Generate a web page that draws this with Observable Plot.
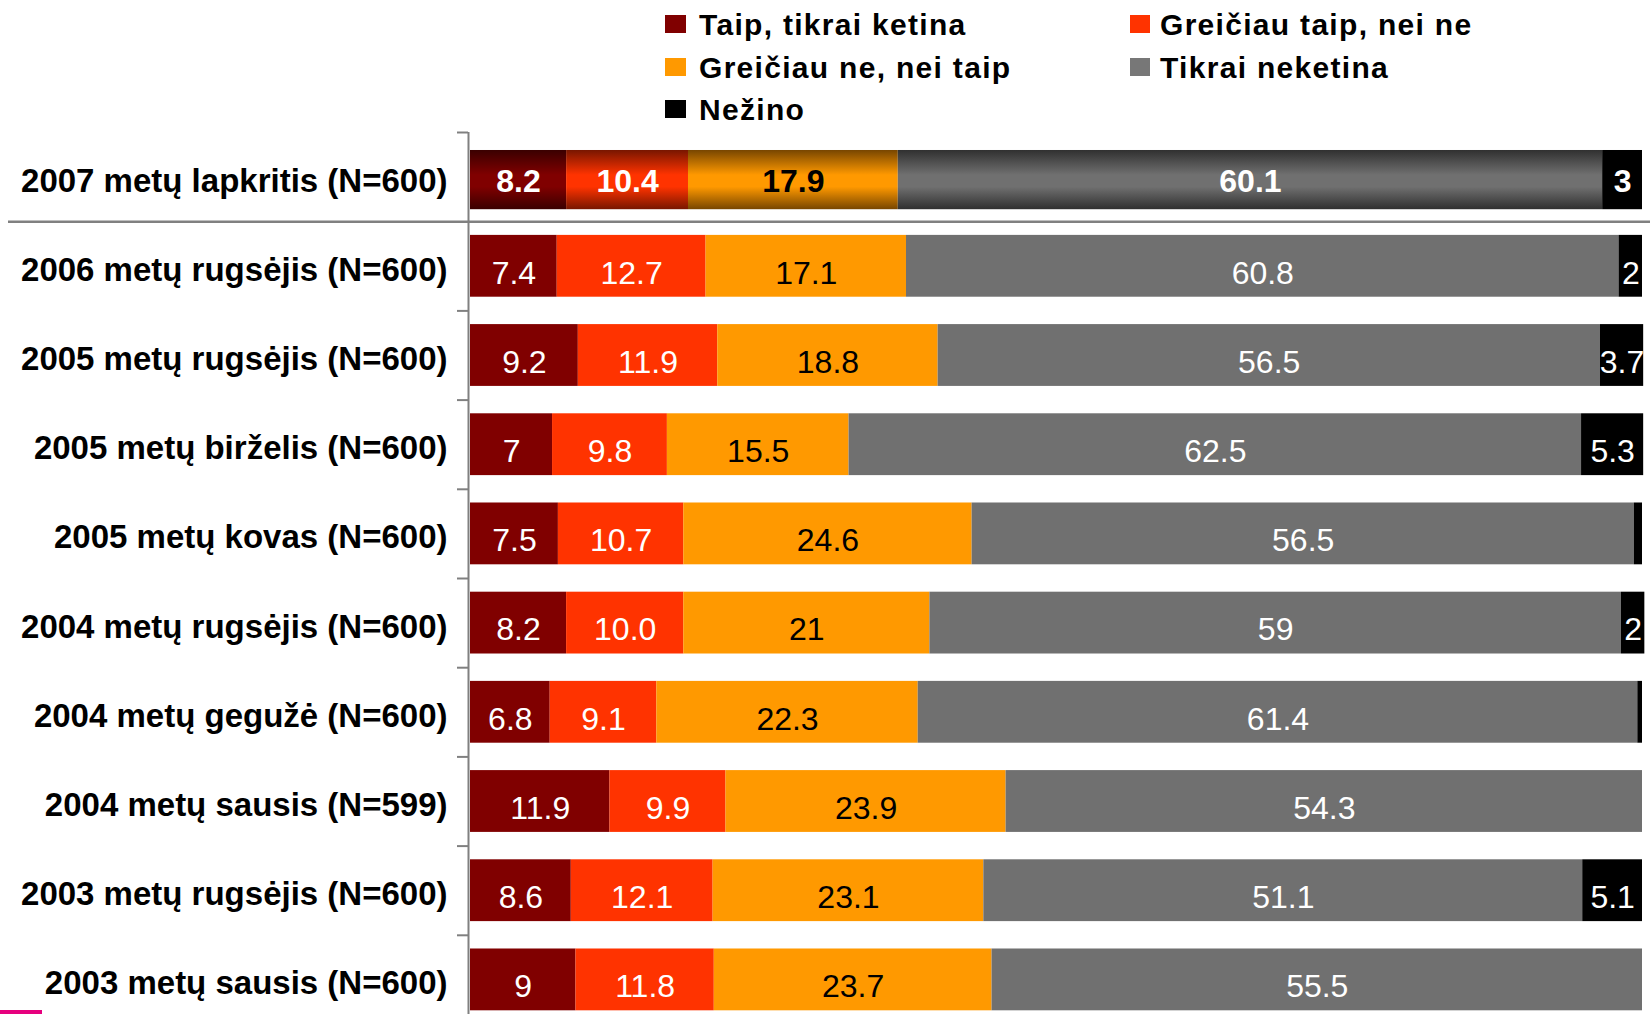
<!DOCTYPE html>
<html><head><meta charset="utf-8">
<script src="https://cdn.jsdelivr.net/npm/d3@7"></script>
<script src="https://cdn.jsdelivr.net/npm/@observablehq/plot@0.6"></script>
<style>
html,body{margin:0;padding:0;background:#fff;overflow:hidden;}
#wrap{position:relative;width:1650px;height:1014px;overflow:hidden;font-family:'Liberation Sans',Arial,sans-serif;}
#legend{position:relative;height:128px;}
.sw{position:absolute;}
.lt{position:absolute;font-size:30px;font-weight:bold;line-height:30px;letter-spacing:1.3px;white-space:nowrap;color:#000;}
#chart svg{display:block;}
#pink{position:absolute;left:0;top:1010px;width:42px;height:4px;background:#e6007e;}
</style></head><body>
<div id="wrap"><div id="legend"></div><div id="chart"></div><div id="pink"></div></div>
<script>
const categories = [
  "2007 metų lapkritis (N=600)",
  "2006 metų rugsėjis (N=600)",
  "2005 metų rugsėjis (N=600)",
  "2005 metų birželis (N=600)",
  "2005 metų kovas (N=600)",
  "2004 metų rugsėjis (N=600)",
  "2004 metų gegužė (N=600)",
  "2004 metų sausis (N=599)",
  "2003 metų rugsėjis (N=600)",
  "2003 metų sausis (N=600)"
];
const seriesNames = ["Taip, tikrai ketina", "Greičiau taip, nei ne", "Greičiau ne, nei taip", "Tikrai neketina", "Nežino"];
const taip         = [8.2, 7.4, 9.2, 7, 7.5, 8.2, 6.8, 11.9, 8.6, 9];
const greiciauTaip = [10.4, 12.7, 11.9, 9.8, 10.7, 10.0, 9.1, 9.9, 12.1, 11.8];
const greiciauNe   = [17.9, 17.1, 18.8, 15.5, 24.6, 21, 22.3, 23.9, 23.1, 23.7];
const tikraiNe     = [60.1, 60.8, 56.5, 62.5, 56.5, 59, 61.4, 54.3, 51.1, 55.5];
const nezino       = [3.4, 2, 3.7, 5.3, 0.7, 2, 0.4, 0, 5.1, 0];
const labelOverrides = {
  "2004 metų rugsėjis (N=600)|Greičiau taip, nei ne": "10.0",
  "2007 metų lapkritis (N=600)|Nežino": "3"
};

const seriesColors = ["#800000", "#ff3300", "#ff9900", "#707070", "#000000"];
const seriesDark   = ["#3a0000", "#781600", "#784600", "#303030", "#000000"];
const textColors   = ["white", "white", "black", "white", "white"];

const seriesValues = [taip, greiciauTaip, greiciauNe, tikraiNe, nezino];
const rows = [];
categories.forEach((cat, i) => seriesNames.forEach((s, j) => {
  const v = seriesValues[j][i];
  rows.push({cat, series: s, si: j, value: v, first: i === 0,
    label: labelOverrides[cat + "|" + s] ?? String(v)});
}));

// Legend (HTML, above the SVG)
const legendItems = [
  {si: 0, col: 0, row: 0}, {si: 1, col: 1, row: 0},
  {si: 2, col: 0, row: 1}, {si: 3, col: 1, row: 1},
  {si: 4, col: 0, row: 2}
];
const colSq = [665, 1130], colSqW = [21, 20], colText = [699, 1160];
const rowSqTop = [15, 58, 100], rowTextTop = [9.6, 53, 95];
const legend = document.getElementById("legend");
legendItems.forEach(it => {
  const sq = document.createElement("div");
  sq.className = "sw";
  sq.style.left = colSq[it.col] + "px";
  sq.style.top = rowSqTop[it.row] + "px";
  sq.style.width = colSqW[it.col] + "px";
  sq.style.height = "18px";
  sq.style.background = it.si === 3 ? "#777777" : seriesColors[it.si];
  legend.appendChild(sq);
  const t = document.createElement("div");
  t.className = "lt";
  t.style.left = colText[it.col] + "px";
  t.style.top = rowTextTop[it.row] + "px";
  t.textContent = seriesNames[it.si];
  legend.appendChild(t);
});

const defs = () => {
  const ns = "http://www.w3.org/2000/svg";
  const d = document.createElementNS(ns, "defs");
  seriesColors.forEach((c, j) => {
    const g = document.createElementNS(ns, "linearGradient");
    g.setAttribute("id", "grad" + j);
    g.setAttribute("x1", "0"); g.setAttribute("y1", "0");
    g.setAttribute("x2", "0"); g.setAttribute("y2", "1");
    [[0, seriesDark[j]], [0.42, c], [0.62, c], [1, seriesDark[j]]].forEach(([o, col]) => {
      const s = document.createElementNS(ns, "stop");
      s.setAttribute("offset", o);
      s.setAttribute("stop-color", col);
      g.appendChild(s);
    });
    d.appendChild(g);
  });
  return d;
};

const yRange = [4, 896];
const halfStep = (yRange[1] - yRange[0]) / categories.length / 2;
const font = "'Liberation Sans', Arial, sans-serif";

const chart = Plot.plot({
  width: 1650, height: 886,
  marginLeft: 8, marginRight: 0, marginTop: 4, marginBottom: 0,
  x: {domain: [0, 100], range: [470, 1642], axis: null},
  y: {domain: categories, range: yRange, paddingInner: 0.307, paddingOuter: 0.1535, align: 0.5, round: false, axis: null},
  color: {type: "identity"},
  style: {fontFamily: font, background: "transparent"},
  marks: [
    defs,
    Plot.barX(rows.filter(d => !d.first), Plot.stackX({
      y: "cat", x: "value", fill: d => seriesColors[d.si]
    })),
    Plot.barX(rows.filter(d => d.first), Plot.stackX({
      y: "cat", x: "value", fill: d => `url(#grad${d.si})`, dy: 3, insetTop: 1.3, insetBottom: 1.3
    })),
    Plot.text(rows.filter(d => !d.first), Plot.stackX({
      y: "cat", x: "value", text: d => d.value >= 1 ? d.label : "",
      fill: d => textColors[d.si], fontSize: 32, dy: 7
    })),
    Plot.text(rows.filter(d => d.first), Plot.stackX({
      y: "cat", x: "value", text: d => d.value >= 1 ? d.label : "",
      fill: d => textColors[d.si], fontSize: 32, fontWeight: "bold", dy: 5
    })),
    Plot.text(categories, {
      y: d => d, x: () => 0, text: d => d, textAnchor: "end", dx: -23, dy: 4,
      fontSize: 33, fontWeight: "bold", fill: "black"
    }),
    Plot.ruleX([0], {stroke: "#808080", strokeWidth: 2, dx: -2}),
    Plot.ruleY(categories.filter((d, i) => i !== 1), {
      y: d => d, x1: () => 0, x2: () => 0, insetLeft: -13, insetRight: 2,
      dy: -halfStep, stroke: "#808080", strokeWidth: 2
    }),
    Plot.ruleY([categories[1]], {y: d => d, dy: -halfStep, stroke: "#808080", strokeWidth: 2.5})
  ]
});
document.getElementById("chart").appendChild(chart);
</script>
</body></html>
